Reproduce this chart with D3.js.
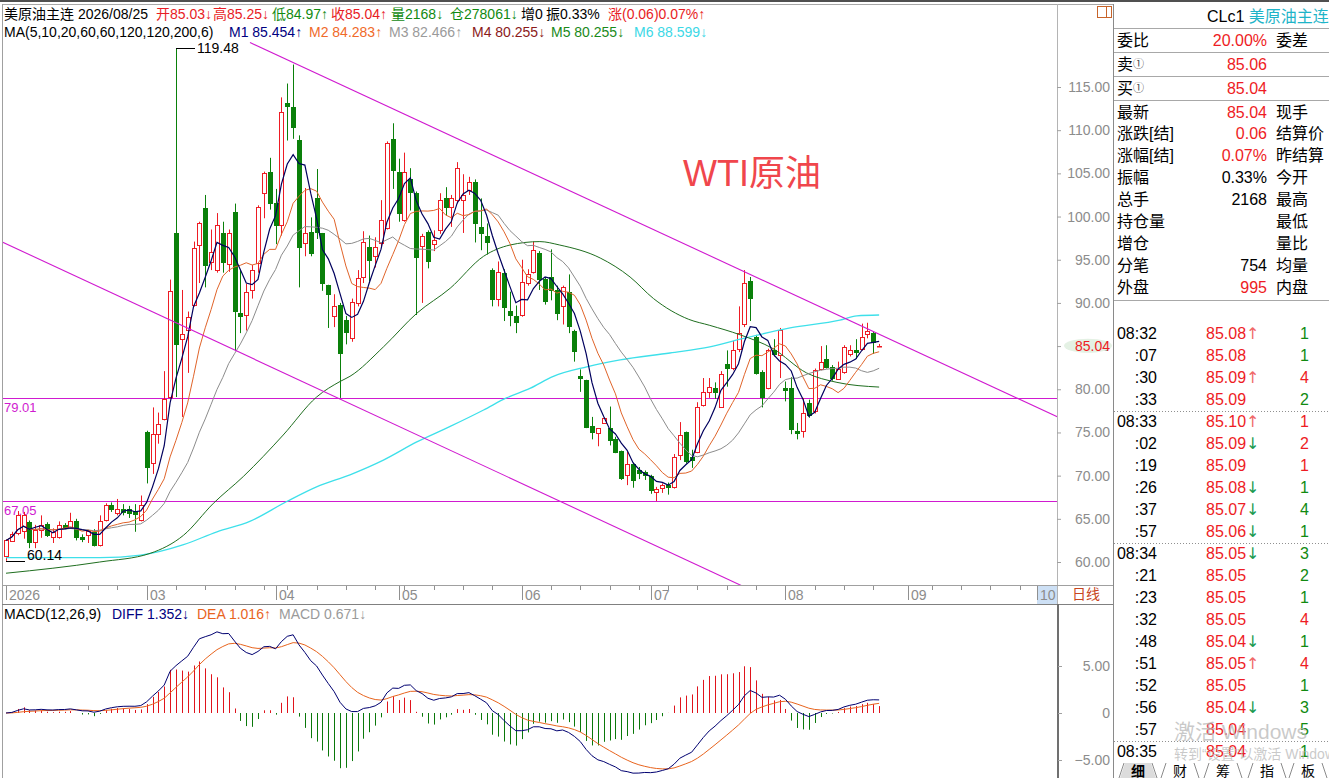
<!DOCTYPE html>
<html lang="zh">
<head>
<meta charset="utf-8">
<title>美原油主连 日线</title>
<script src="https://cdn.jsdelivr.net/npm/d3@7"></script>
<style>
  body { margin: 0; background: #fff; }
  svg { display: block; font-family: "Liberation Sans", "Noto Sans CJK SC", sans-serif; }
</style>
</head>
<body>
<svg id="chart" width="1329" height="778"></svg>
<script>
// Daily bars, index 0 = first visible bar (late Jan)
const opens = [60.6,62.5,63.3,63.5,64.6,62.3,63.7,64.4,62.9,62.9, 64.3,64.0,64.8,62.9,63.1,63.5,62.0,64.9,66.6,65.6,
  66.1,66.1,65.9,64.9,75.0,71.4,74.8,76.6,79.1,98.1, 85.8,86.9,89.8,96.8,101.0,94.7,93.8,98.1,94.5,100.5,
  88.8,88.6,91.5,94.6,102.7,105.2,101.6,99.0,113.1,112.7, 108.9,96.9,98.2,102.1,98.1,92.1,88.4,89.8,88.0,85.9,
  90.0,93.0,96.5,95.5,96.9,98.7,109.0,105.2,99.6,104.4, 102.7,96.5,98.2,96.8,98.4,102.1,101.0,101.9,101.9,103.1,
  104.0,98.8,97.8,93.8,90.5,93.5,89.1,88.5,88.6,92.4, 93.6,95.8,92.8,93.0,91.5,89.6,91.3,86.7,81.5,81.1,
  75.7,74.9,76.1,75.5,74.3,72.8,70.1,71.4,70.6,70.4, 69.9,68.1,68.5,68.9,68.7,72.4,75.1,72.2,72.8,78.2,
  79.7,80.1,78.0,82.9,82.4,84.7,87.6,92.5,86.1,82.0, 80.1,84.5,84.0,80.1,80.1,75.2,75.1,78.4,77.4,82.4,
  83.5,82.6,81.3,82.0,84.0,84.6,84.7,86.3,86.5,85.03];
const highs = [62.6,63.5,65.9,65.8,64.8,64.3,65.4,64.6,63.9,64.7, 64.5,65.7,65.0,63.2,63.7,63.8,65.4,66.8,66.9,67.3,
  66.7,66.5,66.7,67.7,75.2,77.9,77.3,82.1,92.7,119.48, 91.5,89.0,97.1,99.4,102.5,98.5,100.4,99.4,98.5,101.5,
  93.8,92.2,94.4,101.3,105.2,106.8,103.2,113.8,115.4,117.6, 109.4,103.3,99.9,105.5,98.1,92.1,91.0,90.0,88.5,90.5,
  93.8,98.3,97.8,97.6,101.9,108.7,110.8,106.7,107.4,105.6, 102.9,98.0,98.4,98.4,102.7,103.4,102.5,106.3,104.9,104.6,
  104.3,102.1,99.2,94.0,94.8,93.9,91.3,89.7,95.0,93.9, 97.1,96.0,93.0,96.2,92.0,92.0,93.3,86.9,82.3,81.1,
  76.8,75.5,76.7,78.0,74.5,72.9,72.8,71.5,71.0,70.6, 70.1,68.7,69.1,69.2,72.5,76.2,75.1,73.0,78.5,81.3,
  81.3,80.8,82.1,84.5,85.6,89.6,93.8,93.0,86.3,82.2, 84.7,85.8,87.1,80.9,81.4,76.1,79.0,78.8,82.4,85.0,
  85.1,82.8,83.2,85.1,85.1,85.8,87.6,87.7,86.7,85.25];
const lows = [60.14,62.4,63.1,62.7,61.6,61.6,62.8,62.9,62.2,62.7, 63.8,63.9,62.5,62.3,62.2,61.8,61.8,64.7,65.8,65.4,
  65.4,65.1,63.5,64.7,69.1,70.2,73.7,76.4,78.9,79.1, 76.8,81.9,89.6,92.3,91.8,93.8,93.5,93.5,93.6,84.5,
  86.5,86.8,90.5,93.5,99.8,100.8,96.8,97.8,108.8,109.0, 91.8,95.4,95.4,97.4,91.4,87.1,87.2,79.0,85.2,85.5,
  89.6,92.3,92.5,94.1,96.5,98.5,103.2,99.4,99.4,100.7, 88.6,90.0,94.0,96.0,98.0,100.1,98.8,101.5,98.1,102.5,
  97.0,96.1,95.6,89.6,89.6,87.9,87.3,86.5,88.4,92.0, 93.4,91.5,89.8,90.3,88.0,87.5,86.5,83.2,79.7,75.5,
  74.2,73.4,76.0,73.5,72.6,69.5,68.9,68.6,69.6,69.5, 67.9,67.05,68.0,67.8,68.5,71.8,71.4,70.9,72.6,78.0,
  79.0,78.9,78.0,80.3,82.2,84.3,87.2,87.9,81.7,77.9, 80.0,83.8,81.3,78.6,74.8,74.2,74.4,76.7,77.2,82.2,
  82.4,81.0,81.3,81.8,83.8,83.5,84.5,85.9,84.1,84.97];
const closes = [62.5,63.3,65.4,65.4,62.3,63.7,64.3,63.1,63.5,64.3, 64.0,64.8,62.9,62.7,63.6,62.0,64.8,66.6,66.1,66.1,
  65.8,65.6,65.5,66.6,71.0,74.8,76.0,78.9,91.4,85.2, 86.4,88.4,96.4,99.3,94.4,95.9,99.0,94.7,98.1,89.0,
  88.4,91.3,93.8,101.1,105.0,101.6,99.0,112.1,112.7,110.4, 96.5,98.1,95.8,98.2,92.3,91.1,89.6,84.2,86.6,90.1,
  92.9,97.1,95.0,96.5,99.6,108.5,105.4,100.4,105.2,102.9, 95.3,97.7,94.8,97.3,101.9,101.0,102.1,105.6,102.5,104.0,
  99.2,98.1,97.1,90.5,93.6,89.6,88.6,87.8,92.4,93.4, 96.1,92.8,90.3,91.5,88.8,91.8,87.4,84.4,81.3,75.7,
  75.0,75.5,76.7,74.1,72.8,69.7,71.4,69.5,70.3,70.1, 68.3,68.5,68.9,68.7,72.2,74.7,71.8,71.8,78.0,79.7,
  80.3,79.6,81.8,82.4,84.5,86.5,92.3,90.5,81.9,79.1, 84.5,84.0,86.9,79.9,75.3,75.0,77.2,77.0,82.2,83.2,
  82.6,81.3,82.4,84.9,84.5,84.4,86.1,86.7,85.5,85.04];

const ma60Idx = [0,16,24.6,30.3,35.4,40.5,47.3,53,57,58.7,64.4,70.1,75.8,81.5,86,91.1,94.5,101.4,106.5,110.5,116.5,120.1,125.3,130.9,136.6,141.8,149];
const ma60Val = [58.7,60.0,61.0,63.1,66.8,69.9,74.7,79.1,80.9,81.5,84.9,88.8,91.7,95.4,96.7,97.1,96.7,95.2,93.0,90.5,88.1,87.4,86.3,84.7,81.9,80.8,80.255];
const ma120Idx = [0,16,23,30.3,36,41.6,47.9,53,58.7,64.4,70.1,75.8,81.5,85.4,89.4,93.4,99.1,104.8,113.3,120.1,125.3,133.8,142.3,145.2,149];
const ma120Val = [60.5,60.5,60.8,62.0,63.5,64.7,67.0,68.7,70.1,71.8,73.9,75.7,77.6,79.0,80.1,81.5,82.6,83.4,84.2,84.9,85.8,87.1,88.0,88.5,88.599];

// drawn lines: [bar index, price]
const trendA = [[41.64, 120.15], [179.44, 76.80]];
const trendB = [[-1.02, 97.17], [130, 55.85]];
const hLevels = [79.01, 67.05];

// x axis
const monthIdx = [0, 24, 46, 67, 88, 110, 133, 154, 176];
const monthLbl = ["2026", "03", "04", "05", "06", "07", "08", "09", "10"];
const weekIdx = [9,14,19,29,34,39,44,48,53,58,63,68,73,78,83,93,98,103,108,113,118,123,128,138,143,148,158,163,168,173];
const priceTicks = [60, 65, 70, 75, 80, 85, 90, 95, 100, 105, 110, 115];
const macdTicks = [-5, 0, 5];

// header texts
const head1 = [["美原油主连 2026/08/25", 4, "k"], ["开85.03↓", 156, "r"], ["高85.25↓", 213, "r"], ["低84.97↑", 272, "g"],
  ["收85.04↑", 331, "r"], ["量2168↓", 391, "g"], ["仓278061↓", 450, "g"], ["增0", 521, "k"], ["振0.33%", 546, "k"],
  ["涨(0.06)0.07%↑", 608, "r"]];
const head2 = [["MA(5,10,20,60,60,120,120,200,6)", 4, "#000"], ["M1 85.454↑", 229, "#000080"], ["M2 84.283↑", 309, "#f06a2a"],
  ["M3 82.466↑", 389, "#9a9a9a"], ["M4 80.255↓", 472, "#8b1a1a"], ["M5 80.255↓", 551, "#1a8a1a"], ["M6 88.599↓", 634, "#3cd8e6"]];
const macdHead = [["MACD(12,26,9)", 4, "#000"], ["DIFF 1.352↓", 112, "#000080"], ["DEA 1.016↑", 197, "#e8641e"], ["MACD 0.671↓", 279, "#9a9a9a"]];

// quote panel
const infoLabels = ["委比", "卖", "买", "最新", "涨跌[结]", "涨幅[结]", "振幅", "总手", "持仓量", "增仓", "分笔", "外盘"];
const infoMarks = ["", "①", "①", "", "", "", "", "", "", "", "", ""];
const infoValues = ["20.00%", "85.06", "85.04", "85.04", "0.06", "0.07%", "0.33%", "2168", "", "", "754", "995"];
const infoRed = [1, 1, 1, 1, 1, 1, 0, 0, 0, 0, 0, 1];
const infoRight = ["委差", "", "", "现手", "结算价", "昨结算", "今开", "最高", "最低", "量比", "均量", "内盘"];
const infoRowY = [40, 64, 88, 112, 133, 155, 177, 199, 221, 243, 265, 287];

const tickTimes = ["08:32", ":07", ":30", ":33", "08:33", ":02", ":19", ":26", ":37", ":57", "08:34", ":21", ":23", ":32", ":48", ":51", ":52", ":56", ":57", "08:35"];
const tickPrices = ["85.08", "85.08", "85.09", "85.09", "85.10", "85.09", "85.09", "85.08", "85.07", "85.06", "85.05", "85.05", "85.05", "85.05", "85.04", "85.05", "85.05", "85.04", "85.04", "85.04"];
const tickArrows = ["↑", "", "↑", "", "↑", "↓", "", "↓", "↓", "↓", "↓", "", "", "", "↓", "↑", "", "↓", "", ""];
const tickVols = [1, 1, 4, 2, 1, 2, 1, 1, 4, 1, 3, 2, 1, 4, 1, 4, 1, 3, 5, 1];
const tickVolRed = [0, 0, 1, 0, 1, 1, 1, 0, 0, 0, 0, 0, 0, 1, 0, 1, 0, 0, 0, 0];
const tabs = ["细", "财", "筹", "指", "板"];
const tabX = [1138, 1180, 1223, 1267, 1308];

const RED = "#ee1c24", GREEN = "#0a800a", MAG = "#d01ad0";
const colorOf = { r: "#e81c24", g: "#118a11", k: "#000" };

const svg = d3.select("#chart");

// scales
const x = d3.scaleLinear().domain([0, 179]).range([6, 6 + 179 * 5.86]);
const y = d3.scaleLinear().domain([60, 115]).range([562, 87]);
const yM = d3.scaleLinear().domain([-5, 5]).range([760, 666]);

const defs = svg.append("defs");
defs.append("clipPath").attr("id", "clipP").append("rect").attr("x", 3).attr("y", 5).attr("width", 1054).attr("height", 580);
defs.append("clipPath").attr("id", "clipM").append("rect").attr("x", 3).attr("y", 606).attr("width", 1054).attr("height", 172);

// frame
svg.append("rect").attr("x", 0).attr("y", 0).attr("width", 1329).attr("height", 2).attr("fill", "#505050");
const frame = [
  [2, 4.5, 1114, 4.5, "#a8a8a8"], [2.5, 4, 2.5, 778, "#a0a0a0"], [1057.5, 4, 1057.5, 604, "#b4b4b4"],
  [2, 585.5, 1114, 585.5, "#a0a0a0"], [2, 604.5, 1114, 604.5, "#808080"], [1113.5, 4, 1113.5, 778, "#8a8a8a"]
];
svg.selectAll("line.frame").data(frame).join("line").attr("class", "frame")
  .attr("x1", d => d[0]).attr("y1", d => d[1]).attr("x2", d => d[2]).attr("y2", d => d[3]).attr("stroke", d => d[4]);
svg.append("line").attr("x1", 1058).attr("x2", 1058).attr("y1", 604).attr("y2", 778).attr("stroke", "#707070").attr("stroke-width", 2);

// header
const h1 = svg.append("text").attr("y", 14).attr("dominant-baseline", "central").attr("font-size", 14);
head1.forEach(d => h1.append("tspan").attr("x", d[1]).attr("fill", colorOf[d[2]]).text(d[0]));
const h2 = svg.append("text").attr("y", 32).attr("dominant-baseline", "central").attr("font-size", 14);
head2.forEach(d => h2.append("tspan").attr("x", d[1]).attr("fill", d[2]).text(d[0]));

// price panel
const gP = svg.append("g").attr("clip-path", "url(#clipP)");

gP.selectAll("line.hl").data(hLevels).join("line").attr("class", "hl")
  .attr("x1", 3).attr("x2", 1057).attr("y1", d => Math.round(y(d)) + 0.5).attr("y2", d => Math.round(y(d)) + 0.5)
  .attr("stroke", MAG);
gP.selectAll("text.hl").data(hLevels).join("text").attr("class", "hl")
  .attr("x", 4).attr("y", d => y(d) + 14).attr("font-size", 13).attr("fill", MAG).text(d => d.toFixed(2));

const idx = d3.range(closes.length);
const up = i => closes[i] >= opens[i];
const cx = i => Math.round(x(i));

gP.selectAll("line.wick").data(idx).join("line").attr("class", "wick")
  .attr("x1", i => cx(i) + 0.5).attr("x2", i => cx(i) + 0.5)
  .attr("y1", i => y(highs[i])).attr("y2", i => y(lows[i]))
  .attr("stroke", i => up(i) ? RED : GREEN);
gP.selectAll("rect.body").data(idx).join("rect").attr("class", "body")
  .attr("x", i => cx(i) - 1.5).attr("width", 4)
  .attr("y", i => Math.round(y(Math.max(opens[i], closes[i]))) + 0.5)
  .attr("height", i => Math.max(0.5, Math.round(Math.abs(y(opens[i]) - y(closes[i])))))
  .attr("fill", i => up(i) ? "#fff" : GREEN)
  .attr("stroke", i => up(i) ? RED : GREEN);

// moving averages: short ones from the closes, long ones from the read points
const sma = n => closes.map((c, i) => d3.mean(closes.slice(Math.max(0, i - n + 1), i + 1)));
const maLine = d3.line().x((d, i) => x(i)).y(d => y(d));
const ptLine = d3.line().x(d => x(d[0])).y(d => y(d[1])).curve(d3.curveMonotoneX);

gP.append("path").datum(d3.zip(ma120Idx, ma120Val)).attr("d", ptLine).attr("fill", "none").attr("stroke", "#3ee0ea").attr("stroke-width", 1.3);
gP.append("path").datum(d3.zip(ma60Idx, ma60Val)).attr("d", ptLine).attr("fill", "none").attr("stroke", "#1f6e1f");
gP.append("path").datum(sma(20)).attr("d", maLine).attr("fill", "none").attr("stroke", "#8c8c8c");
gP.append("path").datum(sma(10)).attr("d", maLine).attr("fill", "none").attr("stroke", "#e0642a");
gP.append("path").datum(sma(5)).attr("d", maLine).attr("fill", "none").attr("stroke", "#00005e").attr("stroke-width", 1.2);

// trend lines
[trendA, trendB].forEach(t => {
  gP.append("line").attr("x1", x(t[0][0])).attr("y1", y(t[0][1])).attr("x2", x(t[1][0])).attr("y2", y(t[1][1]))
    .attr("stroke", MAG).attr("stroke-width", 1.1);
});

// extreme labels
const iMax = d3.maxIndex(highs), iMin = d3.minIndex(lows);
gP.append("line").attr("x1", cx(iMax)).attr("x2", cx(iMax) + 19).attr("y1", Math.round(y(highs[iMax])) + 0.5).attr("y2", Math.round(y(highs[iMax])) + 0.5).attr("stroke", "#000");
gP.append("text").attr("x", cx(iMax) + 21).attr("y", y(highs[iMax])).attr("dominant-baseline", "central").attr("font-size", 14).text(highs[iMax].toFixed(2));
gP.append("line").attr("x1", cx(iMin)).attr("x2", cx(iMin) + 19).attr("y1", Math.round(y(lows[iMin])) + 0.5).attr("y2", Math.round(y(lows[iMin])) + 0.5).attr("stroke", "#000");
gP.append("text").attr("x", cx(iMin) + 21).attr("y", y(lows[iMin]) - 1).attr("font-size", 14).text(lows[iMin].toFixed(2));

svg.append("text").attr("x", 683).attr("y", 186).attr("font-size", 36).attr("fill", "#f0464c").text("WTI原油");

// price axis
const ax = svg.append("g").attr("transform", "translate(1057,0)")
  .call(d3.axisRight(y).tickValues(priceTicks).tickSize(4).tickFormat(d3.format(".2f")));
ax.select(".domain").remove();
ax.selectAll("line").attr("stroke", "#a0a0a0");
ax.selectAll("text").attr("x", 53).attr("text-anchor", "end").attr("fill", "#8c8c8c").attr("font-size", 14).attr("font-family", null);

// last price marker
const last = closes[closes.length - 1];
svg.append("ellipse").attr("cx", 1088).attr("cy", y(last)).attr("rx", 24).attr("ry", 7).attr("fill", "#e4f1e4");
svg.append("text").attr("x", 1110).attr("y", y(last)).attr("text-anchor", "end").attr("dominant-baseline", "central")
  .attr("font-size", 14).attr("fill", RED).text(last.toFixed(2));

// small icon top right
svg.append("rect").attr("x", 1097.5).attr("y", 6.5).attr("width", 14).attr("height", 11).attr("fill", "none").attr("stroke", "#c8642a");
svg.append("line").attr("x1", 1106.5).attr("x2", 1106.5).attr("y1", 6.5).attr("y2", 17.5).attr("stroke", "#c8642a");

// date axis
svg.append("rect").attr("x", 1037).attr("y", 586).attr("width", 20).attr("height", 18).attr("fill", "#cde0f5");
svg.selectAll("line.wk").data(weekIdx).join("line").attr("class", "wk")
  .attr("x1", i => cx(i) + 0.5).attr("x2", i => cx(i) + 0.5).attr("y1", 586).attr("y2", 590).attr("stroke", "#909090");
svg.selectAll("line.mo").data(monthIdx).join("line").attr("class", "mo")
  .attr("x1", i => cx(i) + 0.5).attr("x2", i => cx(i) + 0.5).attr("y1", 586).attr("y2", 600).attr("stroke", "#909090");
svg.selectAll("text.mo").data(monthIdx).join("text").attr("class", "mo")
  .attr("x", i => cx(i) + 3).attr("y", 595).attr("dominant-baseline", "central").attr("font-size", 14).attr("fill", "#8c8c8c")
  .text((d, k) => monthLbl[k]);
svg.append("text").attr("x", 1072).attr("y", 594).attr("dominant-baseline", "central").attr("font-size", 14).attr("fill", "#c8461e").text("日线");

// MACD (12,26,9) from the closes
const ema = (arr, n) => { const k = 2 / (n + 1); let e = arr[0]; return arr.map(v => (e = e + k * (v - e))); };
const e12 = ema(closes, 12), e26 = ema(closes, 26);
const diff = e12.map((v, i) => v - e26[i]);
const dea = ema(diff, 9);
const hist = diff.map((v, i) => 2 * (v - dea[i]));

const gM = svg.append("g").attr("clip-path", "url(#clipM)");
gM.selectAll("line.h").data(idx).join("line").attr("class", "h")
  .attr("x1", i => cx(i) + 0.5).attr("x2", i => cx(i) + 0.5)
  .attr("y1", yM(0)).attr("y2", i => yM(hist[i]))
  .attr("stroke", i => hist[i] >= 0 ? "#e0141c" : "#0a780a");
const mLine = d3.line().x((d, i) => x(i)).y(d => yM(d));
gM.append("path").datum(dea).attr("d", mLine).attr("fill", "none").attr("stroke", "#e8641e");
gM.append("path").datum(diff).attr("d", mLine).attr("fill", "none").attr("stroke", "#000070");

const mh = svg.append("text").attr("y", 614).attr("dominant-baseline", "central").attr("font-size", 14);
macdHead.forEach(d => mh.append("tspan").attr("x", d[1]).attr("fill", d[2]).text(d[0]));

const axM = svg.append("g").attr("transform", "translate(1058,0)")
  .call(d3.axisRight(yM).tickValues(macdTicks).tickSize(4).tickFormat(d => d === 0 ? "0" : d3.format(".2f")(d)));
axM.select(".domain").remove();
axM.selectAll("line").attr("stroke", "#a0a0a0");
axM.selectAll("text").attr("x", 52).attr("text-anchor", "end").attr("fill", "#8c8c8c").attr("font-size", 14).attr("font-family", null);

// quote panel
const P = svg.append("g").attr("font-size", 16);
const t1 = P.append("text").attr("x", 1207).attr("y", 16).attr("dominant-baseline", "central");
t1.append("tspan").attr("fill", "#000").text("CLc1 ");
t1.append("tspan").attr("fill", "#1eb4c8").text("美原油主连");
[28, 52, 76, 100, 300].forEach(v => P.append("line").attr("x1", 1114).attr("x2", 1329).attr("y1", v + 0.5).attr("y2", v + 0.5).attr("stroke", "#a8a8a8"));
infoLabels.forEach((t, k) => {
  const lt = P.append("text").attr("x", 1117).attr("y", infoRowY[k]).attr("dominant-baseline", "central");
  lt.append("tspan").text(t);
  if (infoMarks[k]) lt.append("tspan").attr("font-size", 11).attr("fill", "#444").text(infoMarks[k]);
  P.append("text").attr("x", 1267).attr("y", infoRowY[k]).attr("dominant-baseline", "central").attr("text-anchor", "end")
    .attr("fill", infoRed[k] ? RED : "#000").text(infoValues[k]);
  P.append("text").attr("x", 1276).attr("y", infoRowY[k]).attr("dominant-baseline", "central").text(infoRight[k]);
});
tickTimes.forEach((t, k) => {
  const ry = 333 + k * 22;
  P.append("text").attr("x", 1157).attr("y", ry).attr("dominant-baseline", "central").attr("text-anchor", "end").text(t);
  const pt = P.append("text").attr("x", 1206).attr("y", ry).attr("dominant-baseline", "central");
  pt.append("tspan").attr("fill", RED).text(tickPrices[k]);
  if (tickArrows[k]) pt.append("tspan").attr("font-size", 16).attr("font-family", "DejaVu Sans")
    .attr("fill", tickArrows[k] === "↑" ? "#f06a6a" : "#1a9a50").text(tickArrows[k]);
  P.append("text").attr("x", 1309).attr("y", ry).attr("dominant-baseline", "central").attr("text-anchor", "end")
    .attr("fill", tickVolRed[k] ? RED : "#118a11").text(tickVols[k]);
});
[411, 543, 741].forEach(v => P.append("line").attr("x1", 1114).attr("x2", 1329).attr("y1", v + 0.5).attr("y2", v + 0.5)
  .attr("stroke", "#909090").attr("stroke-dasharray", "1,2"));

// bottom tabs
P.append("path").attr("d", "M1120,778 L1125,763 L1151,763 L1156,778 Z").attr("fill", "#dcdcdc");
tabX.forEach((tx, k) => {
  P.append("path").attr("d", `M${tx - 19},778 L${tx - 14},763 M${tx + 14},763 L${tx + 19},778`).attr("stroke", "#8a8a8a").attr("fill", "none");
  P.append("text").attr("x", tx).attr("y", 771).attr("dominant-baseline", "central").attr("text-anchor", "middle")
    .attr("font-size", 14).attr("font-weight", k === 0 ? "bold" : "normal").text(tabs[k]);
});

// windows watermark (part of the screenshot, sits over the tick list)
svg.append("text").attr("x", 1174).attr("y", 731).attr("dominant-baseline", "central").attr("font-size", 21)
  .attr("fill", "#b8b8b8").attr("fill-opacity", 0.75).text("激活 Windows");
svg.append("text").attr("x", 1174).attr("y", 754).attr("dominant-baseline", "central").attr("font-size", 14)
  .attr("fill", "#b8b8b8").attr("fill-opacity", 0.75).text("转到“设置”以激活 Windows。");
</script>
</body>
</html>
